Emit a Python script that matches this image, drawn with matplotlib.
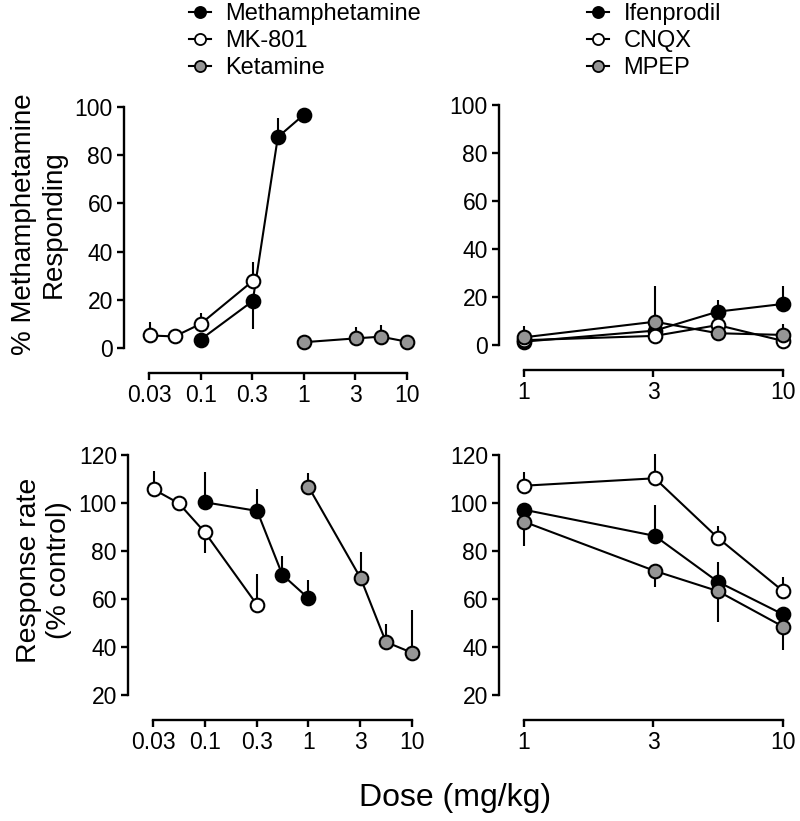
import numpy as np
import matplotlib
matplotlib.use('Agg')
import matplotlib.pyplot as plt
from matplotlib.lines import Line2D

plt.rcParams['font.family'] = ['Liberation Sans', 'DejaVu Sans']

# ---------------- data ----------------
left_xticks = [0.0316, 0.1, 0.316, 1.0, 3.16, 10.0]
left_xticklabels = ['0.03', '0.1', '0.3', '1', '3', '10']
right_xticks = [1.0, 3.16, 10.0]
right_xticklabels = ['1', '3', '10']

left_names = ['Methamphetamine', 'MK-801', 'Ketamine']
right_names = ['Ifenprodil', 'CNQX', 'MPEP']

meth_doses = [0.1, 0.32, 0.56, 1.0]
mk801_doses = [0.032, 0.056, 0.1, 0.32]
ketamine_doses = [1.0, 3.2, 5.6, 10.0]
right_doses = [1.0, 3.2, 5.6, 10.0]

# % methamphetamine responding
meth_resp = [3.5, 19.5, 87.5, 96.8]
meth_resp_up = [0, 0, 8.0, 0]
meth_resp_dn = [0, 11.5, 0, 0]
mk801_resp = [5.2, 4.8, 10.0, 27.8]
mk801_resp_up = [5.6, 0, 4.5, 8.0]
mk801_resp_dn = [0, 0, 0, 0]
ketamine_resp = [2.4, 4.0, 4.7, 2.6]
ketamine_resp_up = [0, 4.8, 4.8, 0]
ketamine_resp_dn = [0, 0, 0, 0]

ifen_resp = [1.4, 6.0, 13.9, 17.1]
ifen_resp_up = [0, 0, 4.9, 7.5]
ifen_resp_dn = [0, 0, 0, 0]
cnqx_resp = [2.0, 3.8, 8.3, 1.7]
cnqx_resp_up = [0, 0, 0, 0]
cnqx_resp_dn = [0, 0, 0, 0]
mpep_resp = [3.2, 9.7, 4.9, 4.2]
mpep_resp_up = [4.7, 14.9, 0, 4.5]
mpep_resp_dn = [0, 0, 0, 0]

# response rate (% control)
meth_rate = [100.3, 96.7, 70.1, 60.3]
meth_rate_up = [12.7, 9.3, 7.8, 7.6]
meth_rate_dn = [0, 0, 0, 0]
mk801_rate = [105.7, 99.9, 87.8, 57.5]
mk801_rate_up = [7.8, 3.0, 0, 12.8]
mk801_rate_dn = [0, 0, 8.8, 0]
ketamine_rate = [106.8, 68.6, 42.1, 37.6]
ketamine_rate_up = [5.6, 10.9, 7.5, 17.8]
ketamine_rate_dn = [0, 0, 0, 0]

ifen_rate = [97.2, 86.3, 67.2, 53.6]
ifen_rate_up = [0, 12.9, 8.1, 0]
ifen_rate_dn = [0, 0, 0, 0]
cnqx_rate = [107.2, 110.3, 85.5, 63.3]
cnqx_rate_up = [5.6, 10.1, 4.9, 5.7]
cnqx_rate_dn = [0, 0, 0, 0]
mpep_rate = [92.2, 71.7, 63.3, 48.5]
mpep_rate_up = [0, 0, 0, 0]
mpep_rate_dn = [10.0, 6.8, 12.7, 9.7]

# ---------------- style ----------------
FACES = ['black', 'white', '#959595']
W, H = 800, 821
fig = plt.figure(figsize=(W / 100, H / 100), dpi=100)


def px_axes(x0, y_top, x1, y_bot):
    return fig.add_axes([x0 / W, 1 - y_bot / H, (x1 - x0) / W, (y_bot - y_top) / H])


def style_axes(ax, xticks, xlabels, ylim, yticks):
    ax.set_xscale('log')
    ax.set_xlim(xticks[0], xticks[-1])
    ax.set_ylim(*ylim)
    ax.set_yticks(yticks)
    ax.set_yticklabels([str(v) for v in yticks])
    ax.set_xticks(xticks)
    ax.set_xticklabels(xlabels)
    ax.xaxis.set_minor_locator(matplotlib.ticker.NullLocator())
    for s in ['top', 'right']:
        ax.spines[s].set_visible(False)
    for s in ['left', 'bottom']:
        ax.spines[s].set_position(('outward', 18))
        ax.spines[s].set_linewidth(1.7)
    ax.tick_params(axis='both', which='major', direction='out', length=5,
                   width=1.7, labelsize=16.5, pad=3, color='black')
    ax.patch.set_visible(False)


def draw_series(ax, xs, ys, ups, dns, face, z):
    ax.errorbar(xs, ys, yerr=[dns, ups], fmt='none', ecolor='black',
                elinewidth=1.5, capsize=0, zorder=1.5, clip_on=False)
    ax.plot(xs, ys, '-', color='black', lw=1.5, marker='o', markersize=9.8,
            markerfacecolor=face, markeredgecolor='black', markeredgewidth=1.5,
            zorder=z, clip_on=False)


ax_tl = px_axes(149, 107, 407, 348)
ax_tr = px_axes(524, 105, 783, 345)
ax_bl = px_axes(153, 455, 412, 695)
ax_br = px_axes(524, 455, 783, 695)

style_axes(ax_tl, left_xticks, left_xticklabels, (0, 100), [0, 20, 40, 60, 80, 100])
style_axes(ax_tr, right_xticks, right_xticklabels, (0, 100), [0, 20, 40, 60, 80, 100])
style_axes(ax_bl, left_xticks, left_xticklabels, (20, 120), [20, 40, 60, 80, 100, 120])
style_axes(ax_br, right_xticks, right_xticklabels, (20, 120), [20, 40, 60, 80, 100, 120])

# top-left
draw_series(ax_tl, meth_doses, meth_resp, meth_resp_up, meth_resp_dn, FACES[0], 2)
draw_series(ax_tl, mk801_doses, mk801_resp, mk801_resp_up, mk801_resp_dn, FACES[1], 3)
draw_series(ax_tl, ketamine_doses, ketamine_resp, ketamine_resp_up, ketamine_resp_dn, FACES[2], 4)
# top-right
draw_series(ax_tr, right_doses, ifen_resp, ifen_resp_up, ifen_resp_dn, FACES[0], 2)
draw_series(ax_tr, right_doses, cnqx_resp, cnqx_resp_up, cnqx_resp_dn, FACES[1], 3)
draw_series(ax_tr, right_doses, mpep_resp, mpep_resp_up, mpep_resp_dn, FACES[2], 4)
# bottom-left
draw_series(ax_bl, meth_doses, meth_rate, meth_rate_up, meth_rate_dn, FACES[0], 2)
draw_series(ax_bl, mk801_doses, mk801_rate, mk801_rate_up, mk801_rate_dn, FACES[1], 3)
draw_series(ax_bl, ketamine_doses, ketamine_rate, ketamine_rate_up, ketamine_rate_dn, FACES[2], 4)
# bottom-right
draw_series(ax_br, right_doses, ifen_rate, ifen_rate_up, ifen_rate_dn, FACES[0], 2)
draw_series(ax_br, right_doses, cnqx_rate, cnqx_rate_up, cnqx_rate_dn, FACES[1], 3)
draw_series(ax_br, right_doses, mpep_rate, mpep_rate_up, mpep_rate_dn, FACES[2], 4)

# axis labels
fig.text(39 / W, 1 - 224 / H, '% Methamphetamine\nResponding', rotation=90,
         ha='center', va='center', fontsize=20, multialignment='center',
         linespacing=1.15)
fig.text(44 / W, 1 - 570 / H, 'Response rate\n(% control)', rotation=90,
         ha='center', va='center', fontsize=20.5, multialignment='center',
         linespacing=1.15)
fig.text(455 / W, 1 - 798 / H, 'Dose (mg/kg)', ha='center', va='center', fontsize=23)


# legends
def make_handles():
    return [Line2D([0], [0], color='black', lw=1.5, marker='o', markersize=8,
                   markerfacecolor=f, markeredgecolor='black', markeredgewidth=1.3)
            for f in FACES]


for names, x0 in [(left_names, 189), (right_names, 587)]:
    fig.legend(make_handles(), names, loc='upper left',
               bbox_to_anchor=(x0 / W, 1 - 3 / H), frameon=False, fontsize=17,
               handlelength=0.95, handletextpad=0.6, labelspacing=0.22,
               borderpad=0, borderaxespad=0)

fig.savefig('out.png', dpi=100)
